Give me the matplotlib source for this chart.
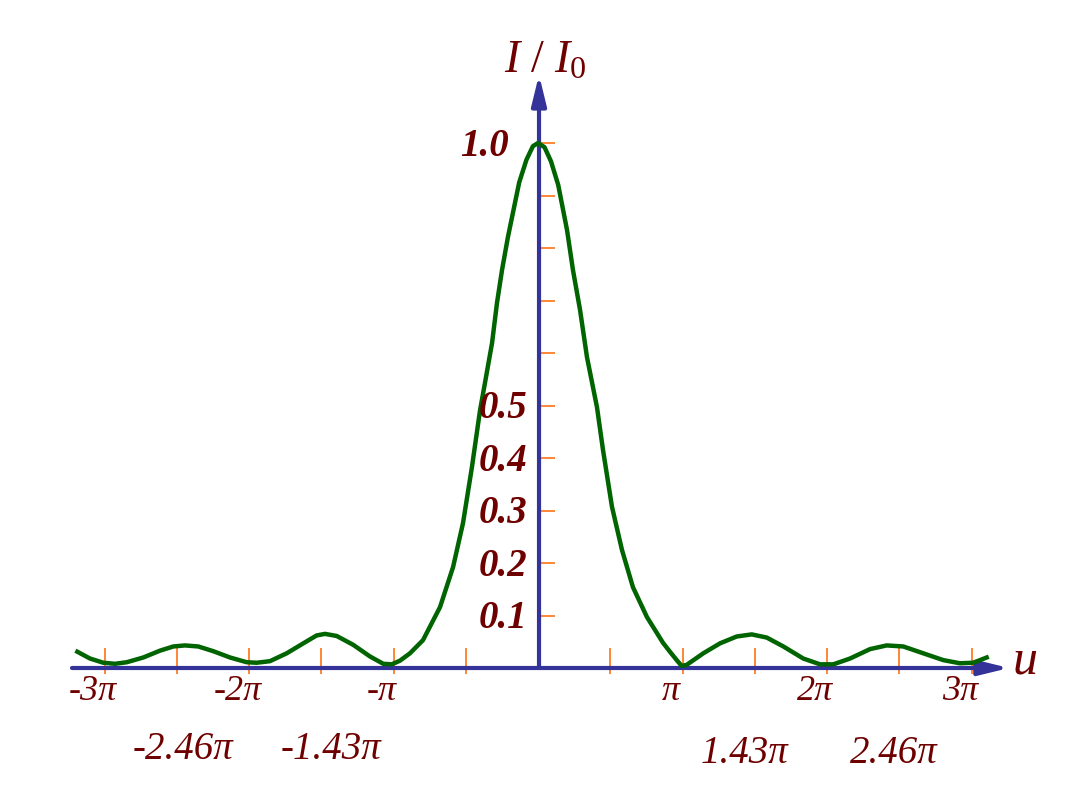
import numpy as np
import matplotlib.pyplot as plt

plt.rcParams['font.family'] = ['Liberation Serif', 'DejaVu Serif']
plt.rcParams['mathtext.fontset'] = 'custom'
plt.rcParams['mathtext.it'] = 'Liberation Serif:italic'
plt.rcParams['mathtext.rm'] = 'Liberation Serif'

# curve: u in units of pi, relative intensity I/I0
u = [-3.188, -3.100, -3.008, -2.927, -2.846, -2.732, -2.616, -2.524, -2.443,
     -2.351, -2.247, -2.131, -2.016, -1.947, -1.855, -1.739, -1.624, -1.532,
     -1.474, -1.393, -1.278, -1.163, -1.071, -1.012, -0.955, -0.886, -0.796,
     -0.678, -0.588, -0.519, -0.457, -0.401, -0.367, -0.318, -0.284, -0.249,
     -0.208, -0.130, -0.080, -0.035, 0.0, 0.045, 0.090, 0.140, 0.201, 0.242,
     0.291, 0.339, 0.408, 0.450, 0.512, 0.581, 0.657, 0.754, 0.865, 0.913,
     0.960, 0.994, 1.029, 1.144, 1.260, 1.375, 1.479, 1.583, 1.698, 1.836,
     1.952, 2.044, 2.159, 2.298, 2.413, 2.528, 2.666, 2.805, 2.920, 3.012,
     3.105]
I = [0.031, 0.018, 0.010, 0.008, 0.011, 0.020, 0.033, 0.041, 0.043,
     0.041, 0.032, 0.020, 0.011, 0.010, 0.013, 0.028, 0.047, 0.062,
     0.065, 0.061, 0.044, 0.022, 0.008, 0.007, 0.014, 0.028, 0.053,
     0.116, 0.192, 0.276, 0.383, 0.491, 0.543, 0.619, 0.695, 0.758,
     0.821, 0.925, 0.968, 0.994, 1.0, 0.992, 0.965, 0.920, 0.834, 0.758,
     0.682, 0.592, 0.497, 0.415, 0.307, 0.225, 0.154, 0.097, 0.048, 0.031,
     0.015, 0.004, 0.006, 0.028, 0.047, 0.060, 0.064, 0.058, 0.041, 0.018,
     0.007, 0.007, 0.018, 0.036, 0.043, 0.041, 0.028, 0.015, 0.009, 0.010,
     0.020]

x_ticks = [-3, -2.5, -2, -1.5, -1, -0.5, 0.5, 1, 1.5, 2, 2.5, 3]
y_ticks = [0.1, 0.2, 0.3, 0.4, 0.5, 0.6, 0.7, 0.8, 0.9, 1.0]
y_labels = {0.1: '0.1', 0.2: '0.2', 0.3: '0.3', 0.4: '0.4', 0.5: '0.5', 1.0: '1.0'}
pi_ticks = [-3, -2, -1, 1, 2, 3]
pi_labels = ['-3π', '-2π', '-π', 'π', '2π', '3π']
sec_ticks = [-2.46, -1.43, 1.43, 2.46]
sec_labels = ['-2.46π', '-1.43π', '1.43π', '2.46π']

red = '#6e0000'
blue = '#333399'
orange = '#ff6600'
green = '#006400'

W, H = 1078, 797
x0, y0 = 538, 668       # pixel position of origin
sx, sy = 144.5, 525     # pixels per pi and per unit intensity

fig = plt.figure(figsize=(W / 100, H / 100), dpi=100)
ax = fig.add_axes([0, 0, 1, 1])
ax.axis('off')
ax.set_xlim(-x0 / sx, (W - x0) / sx)
ax.set_ylim((y0 - H) / sy, y0 / sy)

# tick marks
ax.vlines(x_ticks, -0.011, 0.038, color=orange, lw=1.1, zorder=1)
ax.hlines(y_ticks, 0.0, 0.115, color=orange, lw=1.1, zorder=1)

# axes with arrows
arrow = dict(arrowstyle='-|>,head_length=0.9,head_width=0.22', lw=3, color=blue,
             mutation_scale=20, shrinkA=0, shrinkB=0)
ax.annotate('', xy=(3.26, 0), xytext=(-3.225, 0), arrowprops=arrow, zorder=2)
ax.annotate('', xy=(0.007, 1.13), xytext=(0.007, 0), arrowprops=arrow, zorder=2)

ax.plot(u, I, color=green, lw=3.2, zorder=3, solid_joinstyle='round')

# labels
for v, s in y_labels.items():
    xr = -0.205 if v == 1.0 else -0.075
    ax.text(xr, v - 0.006, s, ha='right', va='center', fontsize=28,
            fontweight='bold', style='italic', color=red)

for v, s in zip(pi_ticks, pi_labels):
    ax.text(v - 0.08, -0.045, s, ha='center', va='center', fontsize=26,
            style='italic', color=red)

for v, s in zip(sec_ticks, sec_labels):
    yy = -0.155 if v < 0 else -0.163
    ax.text(v, yy, s, ha='center', va='center', fontsize=28,
            style='italic', color=red)

ax.text(0.05, 1.155, r'$I\ /\ I_0$', ha='center', va='center', fontsize=33, color=red)
ax.text(3.37, 0.012, 'u', ha='center', va='center', fontsize=36, style='italic', color=red)

fig.savefig('out.png', dpi=100)
